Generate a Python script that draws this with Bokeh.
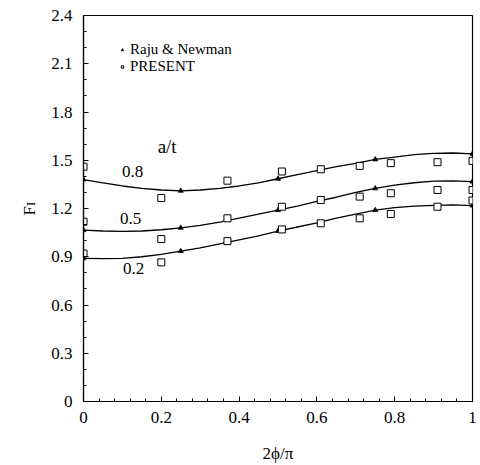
import math
from bokeh.plotting import figure
from bokeh.models import Range1d, Label, Legend, LegendItem, FixedTicker, CustomJSTickFormatter
from bokeh.embed import file_html
from bokeh.resources import INLINE

# Raju & Newman curves
x_curve = [0.0, 0.05, 0.1, 0.15, 0.2, 0.25, 0.3, 0.35, 0.4, 0.45, 0.5,
           0.55, 0.6, 0.65, 0.7, 0.75, 0.8, 0.85, 0.9, 0.95, 1.0]
rn_08 = [1.38, 1.36, 1.34, 1.325, 1.315, 1.31, 1.315, 1.325, 1.34, 1.36, 1.385,
         1.41, 1.435, 1.46, 1.48, 1.505, 1.52, 1.535, 1.543, 1.545, 1.54]
rn_05 = [1.065, 1.06, 1.058, 1.06, 1.068, 1.08, 1.095, 1.115, 1.14, 1.165, 1.19,
         1.215, 1.245, 1.27, 1.3, 1.325, 1.345, 1.36, 1.37, 1.372, 1.367]
rn_02 = [0.89, 0.888, 0.89, 0.9, 0.915, 0.935, 0.955, 0.98, 1.005, 1.03, 1.06,
         1.085, 1.11, 1.14, 1.165, 1.19, 1.205, 1.215, 1.22, 1.222, 1.218]

# Raju & Newman marker points
x_tri = [0.0, 0.25, 0.5, 0.75, 1.0]
tri_08 = [1.38, 1.31, 1.385, 1.505, 1.54]
tri_05 = [1.065, 1.08, 1.19, 1.325, 1.367]
tri_02 = [0.89, 0.935, 1.06, 1.19, 1.218]

# PRESENT results
x_sq = [0.0, 0.2, 0.37, 0.51, 0.61, 0.71, 0.79, 0.91, 1.0]
sq_08 = [1.46, 1.265, 1.373, 1.43, 1.444, 1.465, 1.482, 1.488, 1.496]
sq_05 = [1.118, 1.01, 1.139, 1.211, 1.253, 1.274, 1.295, 1.315, 1.315]
sq_02 = [0.92, 0.865, 0.997, 1.07, 1.108, 1.139, 1.166, 1.211, 1.25]

x_ticks = [0.0, 0.2, 0.4, 0.6, 0.8, 1.0]
y_ticks = [0.0, 0.3, 0.6, 0.9, 1.2, 1.5, 1.8, 2.1, 2.4]
curve_labels = ["0.8", "0.5", "0.2"]

SERIF = "Times New Roman"

p = figure(frame_width=389, frame_height=386, output_backend="svg", toolbar_location=None,
           x_range=Range1d(0, 1), y_range=Range1d(0, 2.4),
           min_border_left=83, min_border_right=6, min_border_top=15, min_border_bottom=56)
p.background_fill_color = "white"
p.border_fill_color = "white"
p.outline_line_color = "black"
p.outline_line_width = 1.2
p.xgrid.visible = False
p.ygrid.visible = False

fmt = CustomJSTickFormatter(code="""
if (Math.abs(tick) < 1e-9) return '0';
if (Math.abs(tick - 1) < 1e-9) return '1';
return tick.toFixed(1);
""")

x_minor = [round(i * 0.04, 4) for i in range(26)]
y_minor = [round(i * 0.1, 4) for i in range(25)]
p.xaxis.ticker = FixedTicker(ticks=x_ticks, minor_ticks=x_minor)
p.yaxis.ticker = FixedTicker(ticks=y_ticks, minor_ticks=y_minor)
for ax in (p.xaxis[0], p.yaxis[0]):
    ax.formatter = fmt
    ax.major_label_text_font = SERIF
    ax.major_label_text_font_size = "17px"
    ax.major_label_text_color = "black"
    ax.axis_line_color = "black"
    ax.axis_line_width = 1.2
    ax.major_tick_in = 5
    ax.major_tick_out = 0
    ax.minor_tick_in = 3
    ax.minor_tick_out = 0
    ax.major_tick_line_color = "black"
    ax.minor_tick_line_color = "black"
    ax.axis_label_text_font = SERIF
    ax.axis_label_text_font_style = "normal"
    ax.axis_label_text_font_size = "17px"
    ax.axis_label_text_color = "black"
p.xaxis.major_label_standoff = 10
p.yaxis.major_label_standoff = 11
p.xaxis.axis_label = "2\u03d5/\u03c0"
p.xaxis.axis_label_standoff = 18
p.yaxis.axis_label = "F\u026a"
p.yaxis.axis_label_standoff = 9

tri_rs = []
for ys, ts in ((rn_08, tri_08), (rn_05, tri_05), (rn_02, tri_02)):
    p.line(x_curve, ys, line_color="black", line_width=1.3)
    tri_rs.append(p.scatter(x_tri, ts, marker="triangle", size=5, fill_color="black",
                            line_color="black", line_width=0.8))

sq_rs = []
for ys in (sq_08, sq_05, sq_02):
    sq_rs.append(p.scatter(x_sq, ys, marker="square", size=7, fill_color="white",
                           line_color="black", line_width=1.0))

label_pos = [(0.126, 1.43), (0.121, 1.135), (0.129, 0.83)]
for txt, (lx, ly) in zip(curve_labels, label_pos):
    p.add_layout(Label(x=lx, y=ly, text=txt, text_font=SERIF, text_font_size="17px",
                       text_align="center", text_baseline="middle", text_color="black"))
p.add_layout(Label(x=0.215, y=1.585, text="a/t", text_font=SERIF, text_font_size="19px",
                   text_align="center", text_baseline="middle", text_color="black"))

legend = Legend(items=[LegendItem(label="Raju & Newman", renderers=[tri_rs[0]]),
                       LegendItem(label="PRESENT", renderers=[sq_rs[0]])],
                location=(36, 326), background_fill_alpha=0, border_line_alpha=0,
                padding=0, margin=0, spacing=0, label_height=17, glyph_width=6,
                glyph_height=17, label_standoff=5, label_text_font=SERIF,
                label_text_font_size="15px", label_text_color="black")
p.add_layout(legend)

open("out.html", "w").write(file_html(p, INLINE))
